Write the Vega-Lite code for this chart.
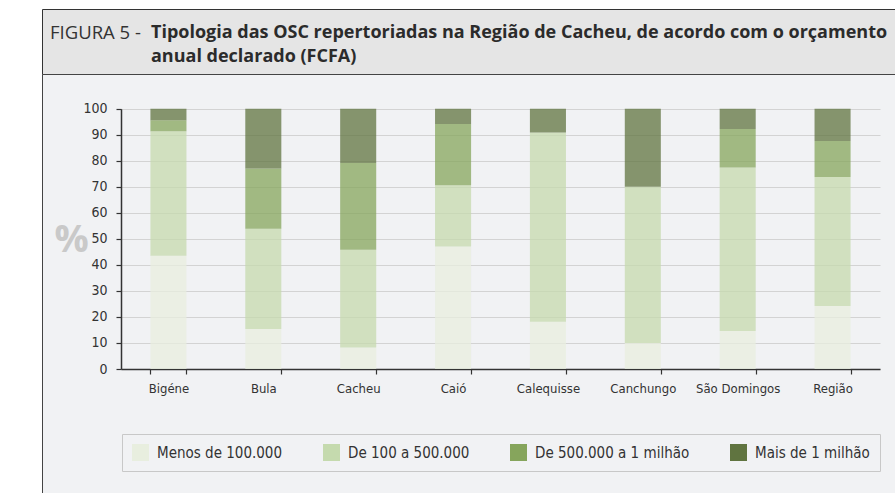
{
  "$schema": "https://vega.github.io/schema/vega-lite/v6.json",
  "background": "#ffffff",
  "padding": {"left": 41, "top": 8, "right": 0, "bottom": 0},
  "spacing": 0,
  "bounds": "flush",
  "resolve": {"scale": {"color": "independent"}, "legend": {"color": "independent"}},
  "config": {"view": {"stroke": null}, "font": "Open Sans"},
  "title": {
    "text": ["Tipologia das OSC repertoriadas na Região de Cacheu, de acordo com o orçamento", "anual declarado (FCFA)"],
    "anchor": "start",
    "frame": "group",
    "orient": "top",
    "offset": -57,
    "dx": 109,
    "font": "Open Sans",
    "fontSize": 18,
    "fontWeight": "bold",
    "color": "#2b2b2b",
    "lineHeight": 24
  },
  "vconcat": [
    {
      "width": 853.5,
      "height": 65,
      "view": {"fill": "#e5e5e5", "stroke": "#333333", "strokeWidth": 1, "strokeDash": [853.5, 65, 918.5, 0]},
      "title": {
        "text": "FIGURA 5 -",
        "anchor": "start",
        "frame": "group",
        "orient": "top",
        "offset": -33.5,
        "dx": 8,
        "font": "Open Sans",
        "fontSize": 18.5,
        "fontWeight": "normal",
        "color": "#333333"
      },
      "data": {"values": []},
      "mark": "point"
    },
    {
      "width": 853.5,
      "height": 419.5,
      "view": {"fill": "#f1f2f4", "stroke": "#444444", "strokeWidth": 1, "strokeDash": [853.5, 1273, 419.5, 0]},
      "data": {
        "values": [
          {"regiao": "Bigéne", "orcamento": "Menos de 100.000", "classe": 1, "pct": 43.5},
          {"regiao": "Bigéne", "orcamento": "De 100 a 500.000", "classe": 2, "pct": 47.8},
          {"regiao": "Bigéne", "orcamento": "De 500.000 a 1 milhão", "classe": 3, "pct": 4.3},
          {"regiao": "Bigéne", "orcamento": "Mais de 1 milhão", "classe": 4, "pct": 4.4},
          {"regiao": "Bula", "orcamento": "Menos de 100.000", "classe": 1, "pct": 15.4},
          {"regiao": "Bula", "orcamento": "De 100 a 500.000", "classe": 2, "pct": 38.5},
          {"regiao": "Bula", "orcamento": "De 500.000 a 1 milhão", "classe": 3, "pct": 23.1},
          {"regiao": "Bula", "orcamento": "Mais de 1 milhão", "classe": 4, "pct": 23.0},
          {"regiao": "Cacheu", "orcamento": "Menos de 100.000", "classe": 1, "pct": 8.3},
          {"regiao": "Cacheu", "orcamento": "De 100 a 500.000", "classe": 2, "pct": 37.5},
          {"regiao": "Cacheu", "orcamento": "De 500.000 a 1 milhão", "classe": 3, "pct": 33.3},
          {"regiao": "Cacheu", "orcamento": "Mais de 1 milhão", "classe": 4, "pct": 20.9},
          {"regiao": "Caió", "orcamento": "Menos de 100.000", "classe": 1, "pct": 47.1},
          {"regiao": "Caió", "orcamento": "De 100 a 500.000", "classe": 2, "pct": 23.5},
          {"regiao": "Caió", "orcamento": "De 500.000 a 1 milhão", "classe": 3, "pct": 23.5},
          {"regiao": "Caió", "orcamento": "Mais de 1 milhão", "classe": 4, "pct": 5.9},
          {"regiao": "Calequisse", "orcamento": "Menos de 100.000", "classe": 1, "pct": 18.2},
          {"regiao": "Calequisse", "orcamento": "De 100 a 500.000", "classe": 2, "pct": 72.7},
          {"regiao": "Calequisse", "orcamento": "De 500.000 a 1 milhão", "classe": 3, "pct": 0},
          {"regiao": "Calequisse", "orcamento": "Mais de 1 milhão", "classe": 4, "pct": 9.1},
          {"regiao": "Canchungo", "orcamento": "Menos de 100.000", "classe": 1, "pct": 10},
          {"regiao": "Canchungo", "orcamento": "De 100 a 500.000", "classe": 2, "pct": 60},
          {"regiao": "Canchungo", "orcamento": "De 500.000 a 1 milhão", "classe": 3, "pct": 0},
          {"regiao": "Canchungo", "orcamento": "Mais de 1 milhão", "classe": 4, "pct": 30},
          {"regiao": "São Domingos", "orcamento": "Menos de 100.000", "classe": 1, "pct": 14.6},
          {"regiao": "São Domingos", "orcamento": "De 100 a 500.000", "classe": 2, "pct": 62.8},
          {"regiao": "São Domingos", "orcamento": "De 500.000 a 1 milhão", "classe": 3, "pct": 14.8},
          {"regiao": "São Domingos", "orcamento": "Mais de 1 milhão", "classe": 4, "pct": 7.8},
          {"regiao": "Região", "orcamento": "Menos de 100.000", "classe": 1, "pct": 24.2},
          {"regiao": "Região", "orcamento": "De 100 a 500.000", "classe": 2, "pct": 49.6},
          {"regiao": "Região", "orcamento": "De 500.000 a 1 milhão", "classe": 3, "pct": 13.8},
          {"regiao": "Região", "orcamento": "Mais de 1 milhão", "classe": 4, "pct": 12.4}
        ]
      },
      "mark": {"type": "bar", "opacity": 0.75},
      "encoding": {
        "x": {
          "field": "regiao",
          "type": "nominal",
          "sort": ["Bigéne", "Bula", "Cacheu", "Caió", "Calequisse", "Canchungo", "São Domingos", "Região"],
          "scale": {"range": [79, 838], "paddingInner": 0.62, "paddingOuter": 0.31},
          "axis": {
            "title": null,
            "orient": "bottom",
            "offset": -124.5,
            "tickBand": "extent",
            "grid": false,
            "domainColor": "#333333",
            "domainWidth": 1.5,
            "tickColor": "#333333",
            "tickSize": 5,
            "tickWidth": 1.2,
            "labelFont": "DejaVu Sans Condensed",
            "labelFontSize": 13,
            "labelColor": "#333333",
            "labelPadding": 8,
            "labelAngle": 0
          }
        },
        "y": {
          "field": "pct",
          "type": "quantitative",
          "stack": "zero",
          "scale": {"domain": [0, 100], "range": [295, 34.7], "nice": false},
          "axis": {
            "title": "%",
            "values": [0, 10, 20, 30, 40, 50, 60, 70, 80, 90, 100],
            "offset": -79,
            "grid": true,
            "gridColor": "#d3d3d3",
            "gridWidth": 1,
            "domainColor": "#333333",
            "domainWidth": 1.5,
            "tickColor": "#333333",
            "tickSize": 5,
            "tickWidth": 1.2,
            "labelFont": "DejaVu Sans Condensed",
            "labelFontSize": 14,
            "labelColor": "#333333",
            "labelPadding": 9,
            "labelFlush": false,
            "labelOverlap": false,
            "titleFont": "Open Sans",
            "titleFontSize": 38,
            "titleFontWeight": "bold",
            "titleColor": "#c9c9c9",
            "titleAngle": 0,
            "titleAlign": "center",
            "titleBaseline": "alphabetic",
            "titleX": -50,
            "titleY": 177
          }
        },
        "order": {"field": "classe", "type": "quantitative", "sort": "ascending"},
        "color": {
          "field": "orcamento",
          "type": "nominal",
          "sort": ["Menos de 100.000", "De 100 a 500.000", "De 500.000 a 1 milhão", "Mais de 1 milhão"],
          "scale": {
            "domain": ["Menos de 100.000", "De 100 a 500.000", "De 500.000 a 1 milhão", "Mais de 1 milhão"],
            "range": ["#e8eedf", "#c5daae", "#86a55c", "#607440"]
          },
          "legend": {
            "orient": "none",
            "legendX": 80,
            "legendY": 360,
            "direction": "horizontal",
            "columns": 4,
            "columnPadding": 40,
            "title": null,
            "padding": 10,
            "strokeColor": "#c8c8c8",
            "fillColor": "#f1f2f4",
            "symbolType": "square",
            "symbolSize": 289,
            "symbolStrokeWidth": 0,
            "symbolOpacity": 1,
            "labelFont": "DejaVu Sans Condensed",
            "labelFontSize": 15,
            "labelColor": "#333333",
            "labelOffset": 8,
            "labelLimit": 400
          }
        }
      }
    }
  ]
}
